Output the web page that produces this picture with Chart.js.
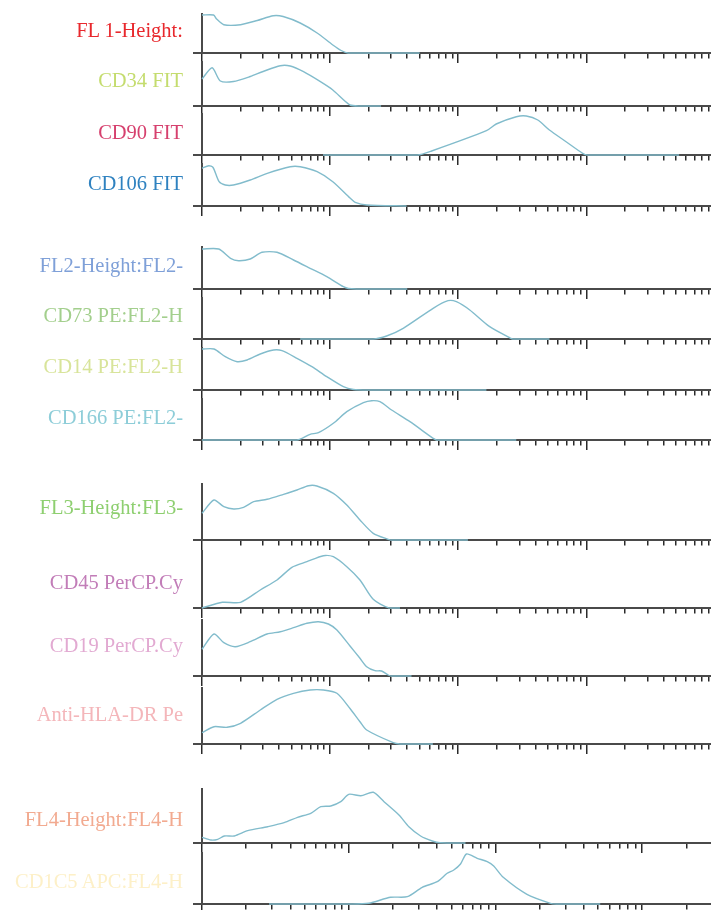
<!DOCTYPE html>
<html>
<head>
<meta charset="utf-8">
<script src="https://cdn.jsdelivr.net/npm/chart.js@4.4.1/dist/chart.umd.min.js"></script>
<style>
html,body{margin:0;padding:0;background:#fff;overflow:hidden;width:711px;height:910px}
#wrap{position:relative;width:711px;height:910px;overflow:hidden}
#wrap canvas{position:absolute;left:0}
.lbl{position:absolute;right:528px;white-space:nowrap;font-family:"Liberation Serif","DejaVu Serif",serif;font-size:20.5px;line-height:24px;text-align:right}
</style>
</head>
<body>
<div id="wrap"></div>
<script>
// ---- labels ----
const panelNames = ["FL 1-Height:", "CD34 FIT", "CD90 FIT", "CD106 FIT",
  "FL2-Height:FL2-", "CD73 PE:FL2-H", "CD14 PE:FL2-H", "CD166 PE:FL2-",
  "FL3-Height:FL3-", "CD45 PerCP.Cy", "CD19 PerCP.Cy", "Anti-HLA-DR Pe",
  "FL4-Height:FL4-H", "CD1C5 APC:FL4-H"];
const labelColors = ["#e8282d", "#c4dc6e", "#d6406e", "#2f82c0",
  "#7fa0d8", "#a3cf8d", "#d8e49a", "#8dcdd8",
  "#8ecf70", "#c27db8", "#e2aad2", "#f4b6ba",
  "#f2aa90", "#fdf0c8"];

// ---- axis ticks (log scale) ----
const decadeStarts = [1, 10, 100, 1000];
const tickMultipliers = [1, 2, 3, 4, 5, 6, 7, 8, 9];
const axisMaxFL123 = 9400;
const axisMaxFL4 = 2945;

// ---- histogram values (x = fluorescence, y = relative count) ----
const fl1X = [1, 1.23, 1.3, 1.48, 2.0, 2.7, 3.6, 4.3, 5.84, 7.92, 10.5, 12.2, 13.8, 50];
const fl1Y = [38, 38, 34, 28.3, 28.3, 32.5, 37.3, 36.5, 30, 20, 8, 2.5, 0, 0];
const cd34X = [1, 1.2, 1.39, 1.76, 2.38, 3.0, 4.08, 4.88, 6.2, 8.4, 10.5, 14.3, 17, 25];
const cd34Y = [27, 38.3, 25, 24.5, 29.5, 34.5, 40.3, 40, 34.3, 24.3, 16, 1, 0, 0];
const cd90X = [8.8, 48, 62, 166, 198, 284, 340, 418, 515, 695, 936, 1018, 5300];
const cd90Y = [0, 0, 4, 24.3, 31, 38.3, 39, 35, 25, 13.3, 1.7, 0, 0];
const cd106X = [1, 1.13, 1.22, 1.36, 1.52, 1.76, 2.38, 3.23, 4.88, 5.84, 7.92, 10.5, 14.3, 15.7, 19.3, 39.5];
const cd106Y = [37.7, 40.3, 38.5, 24.3, 21, 21, 26, 32.7, 39.3, 39.3, 34.3, 24.3, 8, 3.7, 1, 0];

const fl2X = [1, 1.35, 1.67, 1.93, 2.38, 2.94, 3.85, 5.18, 6.98, 9.42, 12.7, 13.9, 16, 40];
const fl2Y = [40, 40, 30.7, 28.3, 30, 36.7, 36.7, 29, 20.7, 12.3, 2.3, 0.5, 0, 0];
const cd73X = [5.84, 21.7, 27.6, 37.2, 63.7, 83.3, 96.8, 123, 176, 252, 267, 515];
const cd73Y = [0, 0, 3, 10.7, 30.7, 38.3, 37.3, 29, 12.3, 1.3, 0, 0];
const cd14X = [1, 1.24, 1.52, 1.88, 2.25, 2.85, 3.62, 4.21, 5.51, 7.21, 9.42, 12.7, 15.2, 20, 166];
const cd14Y = [41, 41, 33.3, 28.3, 30, 36, 40, 39.3, 31.7, 23.3, 13.3, 3.3, 0.5, 0, 0];
const cd166X = [1, 5.51, 6.98, 8.11, 10.6, 13.5, 18.2, 21.1, 24.5, 30.2, 42, 63.7, 67.6, 284];
const cd166Y = [0, 0, 5.7, 7.3, 16.7, 28.3, 37.3, 39.3, 38.3, 30, 18.3, 1.7, 0, 0];

const fl3X = [1, 1.24, 1.48, 1.77, 2.11, 2.53, 3.22, 4.33, 5.51, 6.78, 7.88, 10.6, 13.5, 17.1, 21.7, 28.4, 30, 119];
const fl3Y = [26.7, 40, 33.3, 31, 32.7, 38.3, 40.7, 45.7, 50, 54.3, 54, 46.7, 35, 20, 6.7, 0.7, 0, 0];
const cd45X = [1, 1.44, 2.0, 2.85, 3.85, 5.03, 6.59, 8.87, 10.6, 13.5, 17.1, 21.7, 28.4, 35.1];
const cd45Y = [0, 5.7, 5.7, 18, 28, 40.7, 46.3, 52.3, 51.3, 41.3, 28, 8.7, 0.3, 0];
const cd19X = [1, 1.24, 1.48, 1.82, 2.38, 3.22, 4.08, 5.18, 6.59, 8.11, 9.7, 11.3, 14.3, 17.1, 19.3, 22.4, 25.2, 28.4, 30, 43.2];
const cd19Y = [26.7, 42, 33.3, 29.3, 34.3, 42, 44.3, 48.3, 52.7, 54.3, 52, 46, 30, 17.7, 9.3, 5.3, 5, 1, 0, 0];
const hlaX = [1, 1.24, 1.57, 2.0, 2.85, 3.85, 5.18, 6.98, 8.87, 11.3, 14.3, 17.1, 19.3, 31.1, 35, 63.4];
const hlaY = [11.3, 17.3, 16.7, 20.7, 34, 44.7, 50.7, 54, 54, 50.7, 35.5, 22.3, 14, 1.3, 0, 0];

const fl4X = [1, 1.15, 1.28, 1.42, 1.66, 2.05, 2.8, 3.63, 4.48, 5.51, 6.45, 7.55, 8.83, 10.0, 12.1, 14.7, 17.4, 22, 25.7, 30.9, 37.1, 42, 62.5];
const fl4Y = [5.7, 3, 3.7, 7, 7, 12.3, 16.3, 20.3, 25.7, 29.7, 36.3, 37, 41.3, 48.7, 47.3, 50.7, 41.3, 28, 16.3, 7, 2, 0.3, 0];
const cd1c5X = [2.86, 10.3, 13.7, 19.3, 25.1, 31.7, 40.1, 46.9, 52, 57.8, 63.5, 75.1, 87.9, 97.3, 113, 164, 237, 260, 518];
const cd1c5Y = [0, 0, 0.7, 6.7, 7.3, 16.7, 22.3, 30.7, 34, 40, 50, 45.7, 42.3, 38, 26.7, 9.7, 0.7, 0, 0];

const seriesX = [fl1X, cd34X, cd90X, cd106X, fl2X, cd73X, cd14X, cd166X, fl3X, cd45X, cd19X, hlaX, fl4X, cd1c5X];
const seriesY = [fl1Y, cd34Y, cd90Y, cd106Y, fl2Y, cd73Y, cd14Y, cd166Y, fl3Y, cd45Y, cd19Y, hlaY, fl4Y, cd1c5Y];
const axisMaxes = [axisMaxFL123, axisMaxFL123, axisMaxFL123, axisMaxFL123,
  axisMaxFL123, axisMaxFL123, axisMaxFL123, axisMaxFL123,
  axisMaxFL123, axisMaxFL123, axisMaxFL123, axisMaxFL123,
  axisMaxFL4, axisMaxFL4];

// ---- layout (page pixels): plot top, plot bottom (x axis), label centre ----
const layoutTop =    [14, 62, 114, 164, 247, 298, 348, 399, 484, 551, 620, 688, 789, 853];
const layoutAxis =   [53, 106, 155, 206, 289, 339, 390, 440, 540, 608, 676, 744, 843, 904];
const layoutLabelY = [30, 80, 132, 183, 265, 315.5, 366, 417, 507, 582, 645, 714, 819, 881.5];

const LINE_COLOR = '#82bccc';
const AXIS_COLOR = '#4a4a4a';
const TICK_COLOR = '#2a2a2a';
const W = 711, PAD_TOP = 3, PAD_BOTTOM = 2, X_TICK = 10, Y_TICK = 9, LEFT = 202;

function buildTicks(max) {
  const t = [];
  decadeStarts.forEach(d => tickMultipliers.forEach(m => {
    const v = d * m;
    if (v <= max) t.push({ value: v, major: m === 1 });
  }));
  return t;
}

const wrap = document.getElementById('wrap');

panelNames.forEach((name, i) => {
  const span = layoutAxis[i] - layoutTop[i];
  const H = PAD_TOP + span + X_TICK + PAD_BOTTOM;
  const cv = document.createElement('canvas');
  cv.width = W; cv.height = H;
  cv.style.width = W + 'px'; cv.style.height = H + 'px';
  cv.style.top = (layoutTop[i] - PAD_TOP) + 'px';
  wrap.appendChild(cv);
  const xMax = axisMaxes[i];
  new Chart(cv.getContext('2d'), {
    type: 'line',
    data: {
      datasets: [{
        data: seriesX[i].map((x, k) => ({ x: x, y: seriesY[i][k] })),
        borderColor: LINE_COLOR,
        borderWidth: 1.4,
        pointRadius: 0,
        fill: false,
        tension: 0.25,
        clip: false
      }]
    },
    options: {
      responsive: false,
      animation: false,
      events: [],
      layout: { padding: { left: LEFT - Y_TICK, right: 0, top: PAD_TOP, bottom: PAD_BOTTOM } },
      plugins: { legend: { display: false }, tooltip: { enabled: false }, title: { display: false } },
      scales: {
        x: {
          type: 'logarithmic', position: 'bottom', min: 1, max: xMax,
          afterBuildTicks: s => { s.ticks = buildTicks(xMax); },
          ticks: { display: false },
          grid: {
            drawOnChartArea: false, drawTicks: true, tickLength: X_TICK,
            lineWidth: 1.5, tickWidth: 1.5, tickColor: TICK_COLOR,
            tickBorderDash: ctx => (ctx.tick && ctx.tick.major) ? [] : [4.5, 40]
          },
          border: { display: true, color: AXIS_COLOR, width: 2 }
        },
        y: {
          type: 'linear', position: 'left', min: 0, max: span,
          afterBuildTicks: s => { s.ticks = [{ value: 0 }]; },
          ticks: { display: false },
          grid: { drawOnChartArea: false, drawTicks: true, tickLength: Y_TICK, lineWidth: 2, tickWidth: 2, tickColor: AXIS_COLOR },
          border: { display: true, color: AXIS_COLOR, width: 2 }
        }
      }
    }
  });
});

panelNames.forEach((name, i) => {
  const d = document.createElement('div');
  d.className = 'lbl';
  d.textContent = name;
  d.style.color = labelColors[i];
  d.style.top = (layoutLabelY[i] - 12.1) + 'px';
  wrap.appendChild(d);
});
</script>
</body>
</html>
